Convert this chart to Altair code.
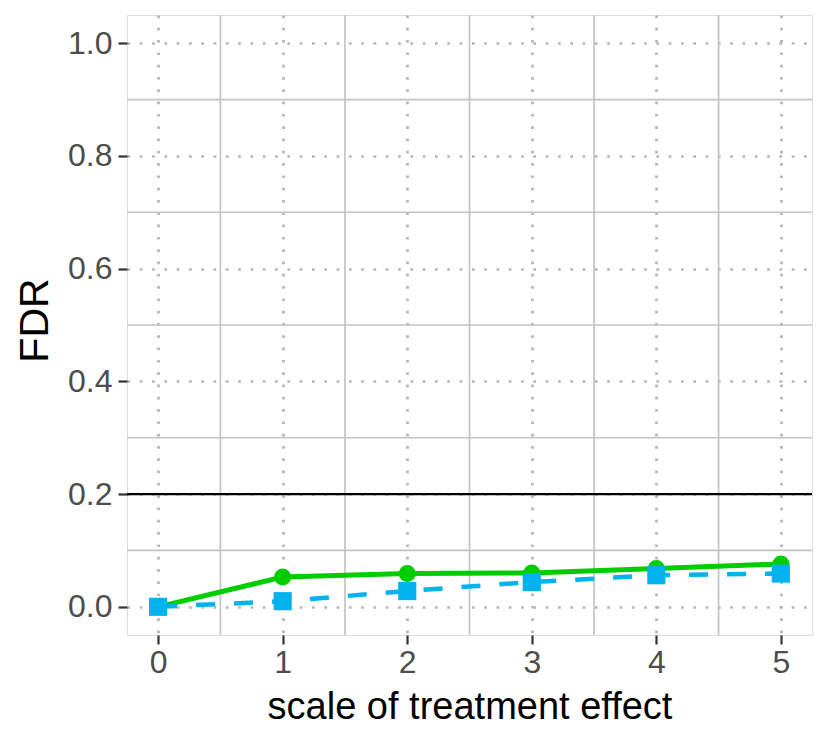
import altair as alt
import pandas as pd

x_vals = [0, 1, 2, 3, 4, 5]
fdr_green = [0.0, 0.053, 0.059, 0.060, 0.068, 0.076]
fdr_blue = [0.0, 0.010, 0.028, 0.044, 0.056, 0.059]
y_ticks = [0.0, 0.2, 0.4, 0.6, 0.8, 1.0]
x_minor = [0.5, 1.5, 2.5, 3.5, 4.5]
y_minor = [0.1, 0.3, 0.5, 0.7, 0.9]
threshold = 0.2

df_g = pd.DataFrame({"x": x_vals, "y": fdr_green})
df_b = pd.DataFrame({"x": x_vals, "y": fdr_blue})

FONT = "Liberation Sans"
xs = alt.Scale(domain=[-0.25, 5.25], nice=False, zero=False)
ys = alt.Scale(domain=[-0.05, 1.05], nice=False, zero=False)

xaxis = alt.Axis(values=x_vals, format="d", title="scale of treatment effect",
                 grid=True, gridDash=[2.7, 9.6], gridColor="#b5b5b5", gridWidth=2.7,
                 domain=False, tickColor="#333333", tickWidth=2.2, tickSize=9,
                 labelFontSize=32, labelColor="#4d4d4d", labelFont=FONT, labelPadding=3,
                 titleFontSize=38, titleFont=FONT, titleFontWeight="normal",
                 titleColor="black", titlePadding=10)
yaxis = alt.Axis(values=y_ticks, format=".1f", title="FDR",
                 grid=True, gridDash=[2.7, 9.6], gridColor="#b5b5b5", gridWidth=2.7,
                 domain=False, tickColor="#333333", tickWidth=2.2, tickSize=9,
                 labelFontSize=32, labelColor="#4d4d4d", labelFont=FONT, labelPadding=6,
                 titleFontSize=41, titleFont=FONT, titleFontWeight="normal",
                 titleColor="black", titlePadding=11, titleY=305)

base = alt.Chart(df_g).encode(
    x=alt.X("x:Q", scale=xs, axis=xaxis),
    y=alt.Y("y:Q", scale=ys, axis=yaxis),
)

vminor = alt.Chart(pd.DataFrame({"x": x_minor})).mark_rule(
    color="#c4c4c4", strokeWidth=1.7).encode(x=alt.X("x:Q", scale=xs))
hminor = alt.Chart(pd.DataFrame({"y": y_minor})).mark_rule(
    color="#c4c4c4", strokeWidth=1.7).encode(y=alt.Y("y:Q", scale=ys))
hline = alt.Chart(pd.DataFrame({"y": [threshold]})).mark_rule(
    color="black", strokeWidth=2.2).encode(y=alt.Y("y:Q", scale=ys))

green_line = base.mark_line(color="#00CD00", strokeWidth=5)
green_pts = base.mark_point(shape="circle", filled=True, opacity=1,
                            color="#00CD00", size=290)

bbase = alt.Chart(df_b).encode(x=alt.X("x:Q", scale=xs), y=alt.Y("y:Q", scale=ys))
blue_line = bbase.mark_line(color="#00B2EE", strokeWidth=4.5, strokeDash=[19, 19])
blue_pts = bbase.mark_point(shape="square", filled=True, opacity=1,
                            color="#00B2EE", size=330)

chart = alt.layer(
    base.mark_point(opacity=0), vminor, hminor, hline,
    green_line, blue_line, green_pts, blue_pts
).properties(
    width=685, height=620,
    autosize=alt.AutoSizeParams(type="none"),
    padding={"left": 119, "top": 7, "right": 8, "bottom": 104},
).configure_view(stroke="black", strokeWidth=1.8).configure(background="white")

chart.save("out.html", embed_options={"renderer": "svg", "actions": False})
